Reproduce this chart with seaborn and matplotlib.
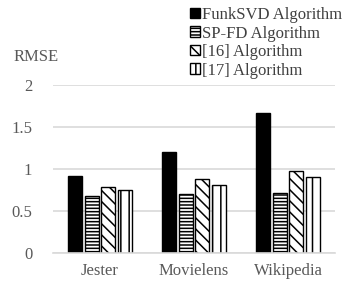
import pandas as pd
import matplotlib
matplotlib.use("Agg")
import matplotlib.pyplot as plt
import seaborn as sns
from matplotlib.patches import Patch

datasets = ["Jester", "Movielens", "Wikipedia"]
algorithms = ["FunkSVD Algorithm", "SP-FD Algorithm", "[16] Algorithm", "[17] Algorithm"]
funksvd = [0.92, 1.20, 1.66]
spfd = [0.68, 0.70, 0.71]
ref16 = [0.79, 0.88, 0.98]
ref17 = [0.755, 0.81, 0.90]

fills = ["black", "white", "white", "white"]
hatches = ["", "-----", "\\\\\\", "||"]

rows = []
for algo, vals in zip(algorithms, [funksvd, spfd, ref16, ref17]):
    for ds, v in zip(datasets, vals):
        rows.append({"dataset": ds, "algorithm": algo, "rmse": v})
df = pd.DataFrame(rows)

sns.set_style("white")
plt.rcParams["font.family"] = ["Liberation Serif", "DejaVu Serif"]
plt.rcParams["hatch.linewidth"] = 1.1
plt.rcParams["hatch.color"] = "black"

fig = plt.figure(figsize=(3.42, 2.82), dpi=100)
ax = fig.add_axes([0.155, 0.103, 0.825, 0.596])

sns.barplot(data=df, x="dataset", y="rmse", hue="algorithm", order=datasets,
            hue_order=algorithms, palette=fills, edgecolor="black", linewidth=1.0,
            width=0.7, gap=0.15, ax=ax, legend=False)

for cont, h in zip(ax.containers, hatches):
    for bar in cont:
        bar.set_hatch(h)

ax.set_ylim(0, 2)
ax.set_yticks([0, 0.5, 1, 1.5, 2])
ax.set_yticklabels(["0", "0.5", "1", "1.5", "2"])
ax.yaxis.grid(True, color="#d9d9d9", linewidth=1.2)
ax.set_axisbelow(True)
for s in ["top", "right", "left"]:
    ax.spines[s].set_visible(False)
ax.spines["bottom"].set_color("#d9d9d9")
ax.spines["bottom"].set_linewidth(1.2)
ax.tick_params(axis="both", length=0, labelsize=12, colors="#595959")
ax.tick_params(axis="y", pad=15)
ax.tick_params(axis="x", pad=7)
ax.set_xlabel("")
ax.set_ylabel("")

fig.text(0.04, 1 - 57 / 282, "RMSE", fontsize=12, color="#595959", va="center")

handles = [Patch(facecolor=f, edgecolor="black", hatch=h, linewidth=1.0)
           for f, h in zip(fills, hatches)]
fig.legend(handles, algorithms, loc="upper left", bbox_to_anchor=(0.555, 0.975),
           frameon=False, fontsize=12, labelcolor="#404040",
           handlelength=0.6, handleheight=0.6,
           handletextpad=0.12, labelspacing=0.15, borderaxespad=0, borderpad=0)

fig.savefig("out.png", dpi=100)
